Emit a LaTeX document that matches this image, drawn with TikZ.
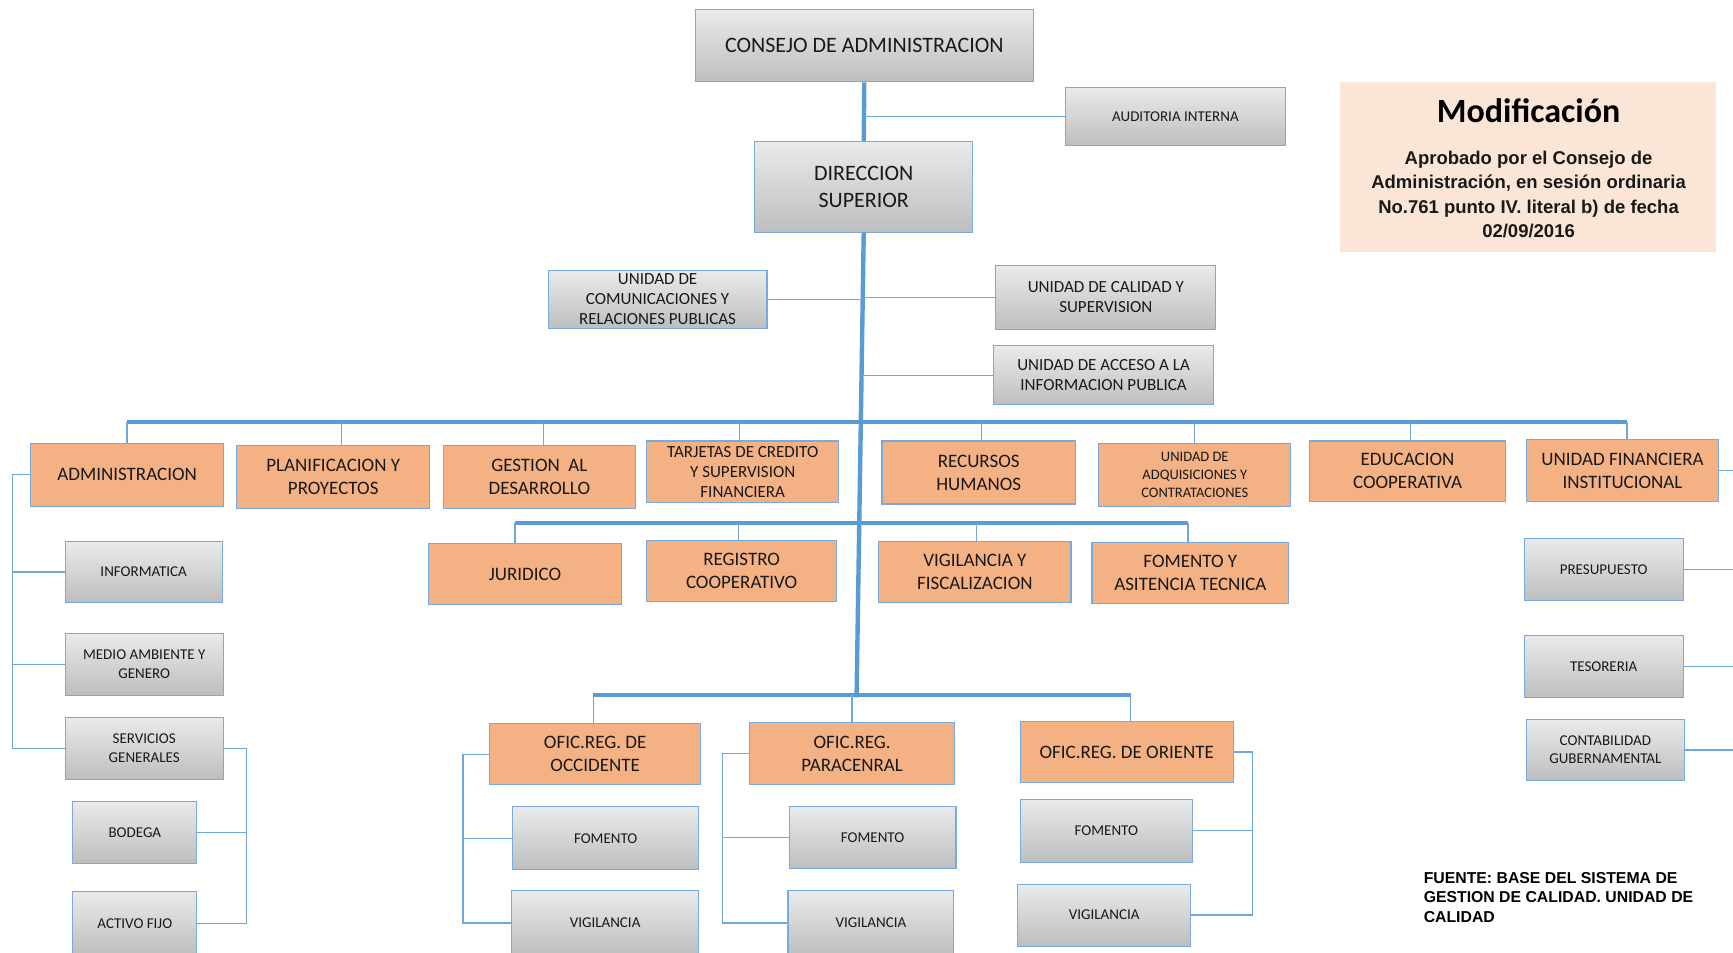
\documentclass[tikz,border=0pt]{standalone}
\usepackage{fontspec}
\setmainfont{Carlito}
\newfontfamily\arialfont{Liberation Sans}
\definecolor{lineblue}{RGB}{91,155,213}
\definecolor{thinblue}{RGB}{112,166,220}
\definecolor{bordblue}{RGB}{120,170,224}
\definecolor{orangef}{RGB}{244,177,131}
\definecolor{gtop}{RGB}{234,234,234}
\definecolor{gbot}{RGB}{190,190,190}
\definecolor{peach}{RGB}{251,229,214}
\definecolor{txt}{RGB}{25,25,25}
\newcommand\bx[7]{%
  \node[#1, minimum width={(#5-#3)*1.1052pt}, minimum height={(#6-#4)*1.1052pt}] (#2) at ({(#3+#5)/2},{(#4+#6)/2}) {#7};}
\begin{document}
\begin{tikzpicture}[x=1.1052pt,y=-1.1052pt,
  box/.style={draw=bordblue, line width=1.1pt, inner sep=0.5pt, align=center, text=txt},
  gbox/.style={box, top color=gtop, bottom color=gbot},
  obox/.style={box, fill=orangef},
  gbig/.style={gbox, font=\fontsize{22}{26.5}\selectfont},
  gunit/.style={gbox, inner sep=0pt, font=\fontsize{17}{20}\selectfont},
  gsm/.style={gbox, font=\fontsize{15}{18.5}\selectfont},
  obig/.style={obox, font=\fontsize{19}{23}\selectfont},
  omid/.style={obox, inner sep=0pt, font=\fontsize{17}{20.3}\selectfont},
  osm/.style={obox, font=\fontsize{14.5}{18}\selectfont},
  mainline/.style={lineblue, line width=4.4pt},
  link/.style={thinblue, line width=1.3pt}]
\useasboundingbox (0,0) rectangle (1568,862);
\clip (0,0) rectangle (1568,862);
\fill[white] (0,0) rectangle (1568,862);

% top
\bx{gbig}{consejo}{629}{9}{935}{74}{CONSEJO DE ADMINISTRACION}
\bx{gsm}{auditoria}{964}{79}{1163}{132}{AUDITORIA INTERNA}
\bx{gbig}{direccion}{683}{128}{880}{210}{DIRECCION\\SUPERIOR}
\bx{gunit}{comu}{496}{245}{694}{297}{UNIDAD DE\\COMUNICACIONES Y\\RELACIONES PUBLICAS}
\bx{gunit}{calidad}{901}{240}{1100}{298}{UNIDAD DE CALIDAD Y\\SUPERVISION}
\bx{gunit}{acceso}{899}{313}{1098}{366}{UNIDAD DE ACCESO A LA\\INFORMACION PUBLICA}

% orange row 1
\bx{obig}{admin}{28}{401}{202}{458}{ADMINISTRACION}
\bx{obig}{planif}{214}{403}{389}{460}{PLANIFICACION Y\\PROYECTOS}
\bx{obig}{gestion}{401}{403}{575}{460}{GESTION\ \ AL\\DESARROLLO}
\bx{omid}{tarjetas}{585}{399}{759}{455}{TARJETAS DE CREDITO\\Y SUPERVISION\\FINANCIERA}
\bx{obig}{recursos}{798}{399}{973}{456}{RECURSOS\\HUMANOS}
\bx{osm}{adquis}{994}{401}{1168}{458}{UNIDAD DE\\ADQUISICIONES Y\\CONTRATACIONES}
\bx{obig}{educacion}{1185}{399}{1362}{454}{EDUCACION\\COOPERATIVA}
\bx{obig}{ufin}{1381}{398}{1555}{454}{UNIDAD FINANCIERA\\INSTITUCIONAL}
% orange row 2
\bx{obig}{juridico}{388}{492}{562}{547}{JURIDICO}
\bx{obig}{registro}{585}{489}{757}{544}{REGISTRO\\COOPERATIVO}
\bx{obig}{vigfis}{795}{490}{969}{545}{VIGILANCIA Y\\FISCALIZACION}
\bx{obig}{fomasi}{988}{491}{1166}{546}{FOMENTO Y\\ASITENCIA TECNICA}
% regional offices
\bx{obig}{oocc}{443}{655}{634}{710}{OFIC.REG. DE\\OCCIDENTE}
\bx{obig}{opar}{678}{654}{864}{710}{OFIC.REG.\\PARACENRAL}
\bx{obig}{oori}{923}{653}{1116}{708}{OFIC.REG. DE ORIENTE}

% gray sub-units
\bx{gsm}{informatica}{59}{490}{201}{545}{INFORMATICA}
\bx{gsm}{medio}{59}{573}{202}{629}{MEDIO AMBIENTE Y\\GENERO}
\bx{gsm}{servicios}{59}{649}{202}{705}{SERVICIOS\\GENERALES}
\bx{gsm}{bodega}{66}{725}{178}{781}{BODEGA}
\bx{gsm}{activo}{66}{807}{178}{864}{ACTIVO FIJO}
\bx{gsm}{focc}{464}{730}{632}{787}{FOMENTO}
\bx{gsm}{vocc}{463}{806}{632}{864}{VIGILANCIA}
\bx{gsm}{fpar}{714}{730}{865}{786}{FOMENTO}
\bx{gsm}{vpar}{713}{806}{863}{864}{VIGILANCIA}
\bx{gsm}{fori}{923}{723}{1079}{780}{FOMENTO}
\bx{gsm}{vori}{921}{800}{1077}{856}{VIGILANCIA}
\bx{gsm}{presu}{1379}{487}{1523}{543}{PRESUPUESTO}
\bx{gsm}{teso}{1379}{575}{1523}{631}{TESORERIA}
\bx{gsm}{conta}{1381}{651}{1524}{706}{CONTABILIDAD\\GUBERNAMENTAL}

% modification note
\node[fill=peach, inner sep=0pt, minimum width={341*1.1052pt}, minimum height={154*1.1052pt}] (modbox) at (1382.5,151) {};
\node[text=black, font=\fontsize{34}{38}\selectfont\bfseries] (modtitle) at (1383,100) {Modificación};
\node[text=txt, align=center, font=\arialfont\bfseries\fontsize{18.5}{24.3}\selectfont] (modbody) at (1383,176)
  {Aprobado por el Consejo de\\Administración, en sesión ordinaria\\No.761 punto IV. literal b) de fecha\\02/09/2016};
\node[text=black, align=left, anchor=west, inner sep=0pt, font=\arialfont\bfseries\fontsize{15.8}{19.6}\selectfont] (fuente) at (1288,812)
  {FUENTE: BASE DEL SISTEMA DE\\GESTION DE CALIDAD. UNIDAD DE\\CALIDAD};

% coordinates
\coordinate (b1) at (0,382);
\coordinate (b2) at (0,473);
\coordinate (b3) at (0,629);
\coordinate (spinebot) at (775,631);
\coordinate (admL) at (11,0);
\coordinate (svR) at (223,0);
\coordinate (occL) at (419,0);
\coordinate (parL) at (654,0);
\coordinate (oriR) at (1133,0);
\coordinate (redge) at (1590,0);
% drop points on the box tops
\coordinate (dAdmin) at (admin.north);
\coordinate (dPlanif) at ([xshift=8.3pt]planif.north);
\coordinate (dGestion) at ([xshift=4.4pt]gestion.north);
\coordinate (dTarjetas) at ([xshift=-3.3pt]tarjetas.north);
\coordinate (dRecursos) at ([xshift=2.8pt]recursos.north);
\coordinate (dAdquis) at (adquis.north);
\coordinate (dEducacion) at ([xshift=2.8pt]educacion.north);
\coordinate (dUfin) at ([xshift=4.4pt]ufin.north);
\coordinate (dJuridico) at ([xshift=-9.9pt]juridico.north);
\coordinate (dRegistro) at ([xshift=-3.3pt]registro.north);
\coordinate (dVigfis) at ([xshift=1.7pt]vigfis.north);
\coordinate (dFomasi) at ([xshift=-2.2pt]fomasi.north);
\coordinate (dOocc) at ([xshift=-1.7pt]oocc.north);
\coordinate (dOpar) at (opar.north);
\coordinate (dOori) at ([xshift=3.9pt]oori.north);

% main spine
\draw[mainline] (consejo.south) -- (direccion.north);
\draw[link] (auditoria.west) -- (auditoria.west -| consejo.south);
\draw[mainline] (direccion.south) -- (spinebot);
\draw[link] (comu.east) -- (comu.east -| direccion.south);
\draw[link] (calidad.west) -- (calidad.west -| direccion.south);
\draw[link] (acceso.west) -- (acceso.west -| direccion.south);

% bars
\draw[mainline] (dAdmin |- b1) -- (dUfin |- b1);
\foreach \n in {Admin,Planif,Gestion,Tarjetas,Recursos,Adquis,Educacion,Ufin}
  \draw[link] (d\n) -- (d\n |- b1);
\draw[mainline] (dJuridico |- b2) -- (dFomasi |- b2);
\foreach \n in {Juridico,Registro,Vigfis,Fomasi}
  \draw[link] (d\n) -- (d\n |- b2);
\draw[mainline] (dOocc |- b3) -- (dOori |- b3);
\foreach \n in {Oocc,Opar,Oori}
  \draw[link] (d\n) -- (d\n |- b3);

% brackets
\draw[link] (admin.west) -| (admL |- servicios.west) -- (servicios.west);
\draw[link] (informatica.west) -- (informatica.west -| admL);
\draw[link] (medio.west) -- (medio.west -| admL);
\draw[link] (servicios.east) -| (svR |- activo.east) -- (activo.east);
\draw[link] (bodega.east) -- (bodega.east -| svR);
\draw[link] (oocc.west) -| (occL |- vocc.west) -- (vocc.west);
\draw[link] (focc.west) -- (focc.west -| occL);
\draw[link] (opar.west) -| (parL |- vpar.west) -- (vpar.west);
\draw[link] (fpar.west) -- (fpar.west -| parL);
\draw[link] (oori.east) -| (oriR |- vori.east) -- (vori.east);
\draw[link] (fori.east) -- (fori.east -| oriR);
\foreach \n in {ufin,presu,teso,conta}
  \draw[link] (\n.east) -- (\n.east -| redge);
\end{tikzpicture}
\end{document}
